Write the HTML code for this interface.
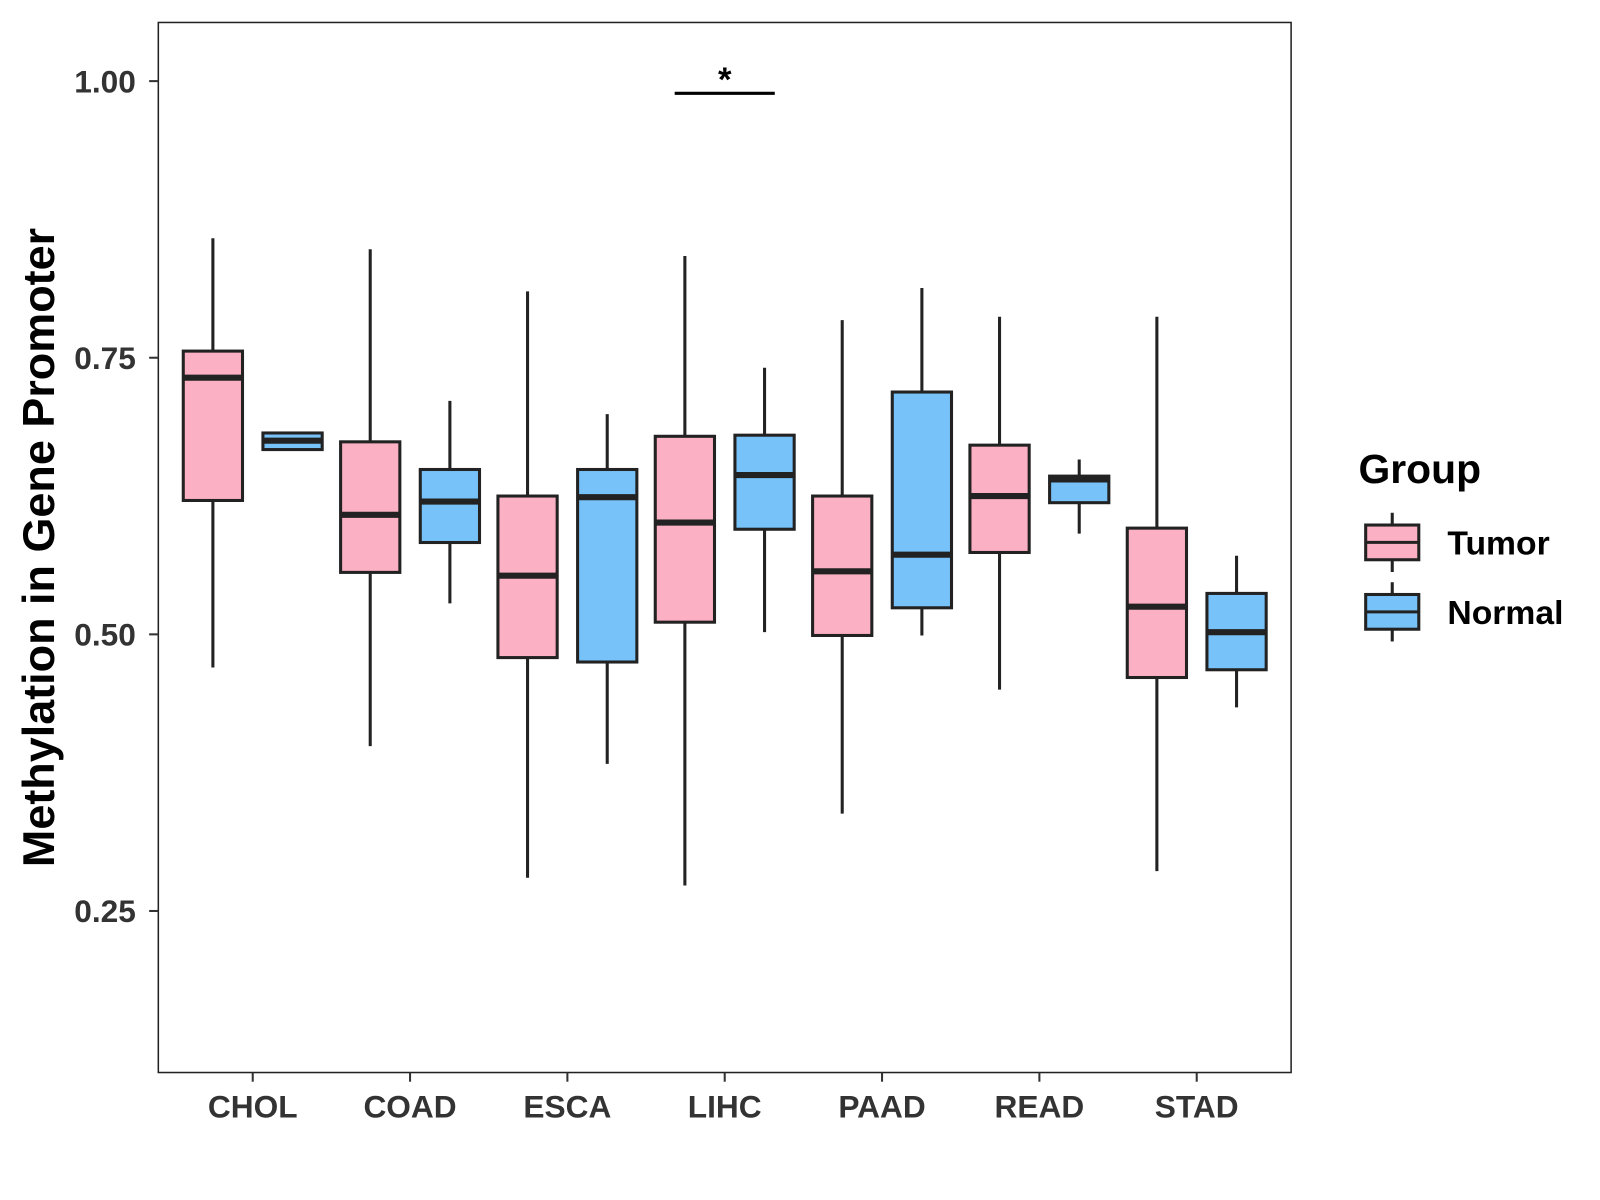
<!DOCTYPE html>
<html><head><meta charset="utf-8"><style>
html,body{margin:0;padding:0;background:#fff;}
svg{display:block;font-family:"Liberation Sans",Arial,sans-serif;}
</style></head><body>
<svg id="chart" width="1600" height="1200" viewBox="0 0 1566.4 1174.8">
<rect x="0" y="0" width="1566.4" height="1174.8" fill="#fff"/>
<g id="marks"></g>
<rect x="155" y="22" width="1109" height="1028" fill="none" stroke="#222" stroke-width="1.5"/>
<g id="axes"></g>
<text x="0" y="0" transform="translate(53,536) rotate(-90)" text-anchor="middle" font-size="44" font-weight="bold" fill="#000">Methylation in Gene Promoter</text>
<g>
<text x="1330" y="473" font-size="40" font-weight="bold" fill="#000">Group</text>
<g>
<line x1="1363" y1="502" x2="1363" y2="560" stroke="#222" stroke-width="3"/>
<rect x="1337" y="514" width="52" height="34" fill="#fbb1c3" stroke="#222" stroke-width="3"/>
<line x1="1337" y1="531" x2="1389" y2="531" stroke="#222" stroke-width="3"/>
<text x="1417" y="543" font-size="33" font-weight="bold" fill="#000">Tumor</text>
</g>
<g>
<line x1="1363" y1="570" x2="1363" y2="628" stroke="#222" stroke-width="3"/>
<rect x="1337" y="582" width="52" height="34" fill="#77c2f8" stroke="#222" stroke-width="3"/>
<line x1="1337" y1="599" x2="1389" y2="599" stroke="#222" stroke-width="3"/>
<text x="1417" y="611" font-size="33" font-weight="bold" fill="#000">Normal</text>
</g>
</g>
</svg>
<script>
const categories = ["CHOL","COAD","ESCA","LIHC","PAAD","READ","STAD"];
// [lower whisker, q1, median, q3, upper whisker]
const tumorStats = [
 [0.470,0.621,0.732,0.756,0.858],
 [0.399,0.556,0.608,0.674,0.848],
 [0.280,0.479,0.553,0.625,0.810],
 [0.273,0.511,0.601,0.679,0.842],
 [0.338,0.499,0.557,0.625,0.784],
 [0.450,0.574,0.625,0.671,0.787],
 [0.286,0.461,0.525,0.596,0.787]
];
const normalStats = [
 [0.667,0.667,0.675,0.682,0.682],
 [0.528,0.583,0.620,0.649,0.711],
 [0.383,0.475,0.624,0.649,0.699],
 [0.502,0.595,0.644,0.680,0.741],
 [0.499,0.524,0.572,0.719,0.813],
 [0.591,0.619,0.640,0.643,0.658],
 [0.434,0.468,0.502,0.537,0.571]
];
const yTicks = [0.25,0.50,0.75,1.00];
const yTickLabels = ["0.25","0.50","0.75","1.00"];
const sigIndex = 3;
const sigLabel = "*";
const sigValue = 0.989;

const NS="http://www.w3.org/2000/svg";
const yMin=0.104, yMax=1.053, pTop=22, pBot=1050, pLeft=155, pRight=1264;
function y(v){return pBot-(v-yMin)/(yMax-yMin)*(pBot-pTop);}
const step=(pRight-pLeft)/(categories.length+0.2);
function x(i){return pLeft+step*(0.6+i);}
function el(tag,attrs,parent){const e=document.createElementNS(NS,tag);for(const k in attrs)e.setAttribute(k,attrs[k]);parent.appendChild(e);return e;}
const marks=document.getElementById('marks'), axes=document.getElementById('axes');
const bw=58, off=39;
function drawBox(s,cx,fill,name){
  const g=el('g',{},marks);
  
  
  el('line',{x1:cx,x2:cx,y1:y(s[4]),y2:y(s[0]),stroke:'#222','stroke-width':3},g);
  el('rect',{x:cx-bw/2,y:y(s[3]),width:bw,height:Math.max(0,y(s[1])-y(s[3])),fill:fill,stroke:'#222','stroke-width':3},g);
  el('line',{x1:cx-bw/2,x2:cx+bw/2,y1:y(s[2]),y2:y(s[2]),stroke:'#222','stroke-width':6},g);
}
categories.forEach((c,i)=>{
  drawBox(tumorStats[i],x(i)-off,'#fbb1c3','box-tumor-'+c.toLowerCase());
  drawBox(normalStats[i],x(i)+off,'#77c2f8','box-normal-'+c.toLowerCase());
  const t=el('line',{x1:x(i),x2:x(i),y1:pBot,y2:pBot+9,stroke:'#333','stroke-width':2},axes);
  
  
  const lb=el('text',{x:x(i),y:1094,'text-anchor':'middle','font-size':31,'font-weight':'bold',fill:'#333'},axes);
  lb.textContent=c;
  
  
});
yTicks.forEach((v,i)=>{
  const t=el('line',{x1:pLeft-9,x2:pLeft,y1:y(v),y2:y(v),stroke:'#333','stroke-width':2},axes);
  
  
  const lb=el('text',{x:pLeft-22,y:y(v)+11,'text-anchor':'end','font-size':31,'font-weight':'bold',fill:'#333'},axes);
  lb.textContent=yTickLabels[i];
  
  
});
const sl=el('line',{x1:x(sigIndex)-off-10,x2:x(sigIndex)+off+10,y1:y(sigValue),y2:y(sigValue),stroke:'#000','stroke-width':3},marks);


const st=el('text',{x:x(sigIndex),y:y(sigValue)-2,'text-anchor':'middle','font-size':34,'font-weight':'bold',fill:'#000'},marks);
st.textContent=sigLabel;


</script>
</body></html>
